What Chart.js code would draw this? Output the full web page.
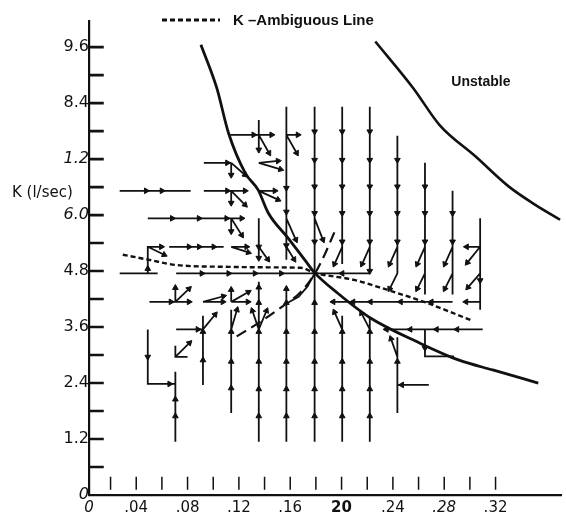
<!DOCTYPE html>
<html>
<head>
<meta charset="utf-8">
<script src="https://cdn.jsdelivr.net/npm/chart.js@4.4.1/dist/chart.umd.min.js"></script>
<style>
    html, body { margin: 0; padding: 0; background: #fff; }
    #wrap { width: 566px; height: 515px; }
</style>
</head>
<body>
<div id="wrap"><canvas id="phaseChart" width="566" height="515"></canvas></div>
<script>
// Axis ticks and labels (as printed on the figure)
const xTickValues = [0, 0.04, 0.08, 0.12, 0.16, 0.20, 0.24, 0.28, 0.32];
const xTickLabels = ['0', '.04', '.08', '.12', '.16', '20', '.24', '.28', '.32'];
const yTickValues = [0, 1.2, 2.4, 3.6, 4.8, 6.0, 7.2, 8.4, 9.6];
const yTickLabels = ['0', '1.2', '2.4', '3.6', '4.8', '6.0', '1.2', '8.4', '9.6'];
const xMarkValues = [0.02, 0.04, 0.06, 0.08, 0.10, 0.12, 0.14, 0.16, 0.18, 0.20, 0.22, 0.24, 0.26, 0.28, 0.30, 0.32];
const yMarkValues = [0.6, 1.2, 1.8, 2.4, 3.0, 3.6, 4.2, 4.8, 5.4, 6.0, 6.6, 7.2, 7.8, 8.4, 9.0, 9.6];

// Boundary curves [x, K]
const stabilityCurve = [
    [0.0904, 9.65], [0.1027, 8.73], [0.1119, 7.76], [0.1250, 6.90], [0.1350, 6.54],
    [0.1428, 6.05], [0.1582, 5.51], [0.1713, 5.04], [0.1791, 4.76], [0.1968, 4.33],
    [0.2222, 3.80], [0.2607, 3.26], [0.2916, 2.89], [0.3178, 2.68], [0.3533, 2.40]
];
const unstableCurve = [
    [0.2263, 9.72], [0.2559, 8.72], [0.2764, 7.93], [0.3047, 7.25],
    [0.3304, 6.61], [0.3510, 6.22], [0.3703, 5.90]
];
const ambiguousLine = [
    [0.0295, 5.15], [0.0503, 5.04], [0.0711, 4.93], [0.1119, 4.89], [0.1428, 4.88],
    [0.1682, 4.87], [0.1793, 4.76], [0.2098, 4.61], [0.2353, 4.40], [0.2662, 4.12], [0.3024, 3.73]
];
const separatrix = [
    [0.1183, 3.40], [0.1366, 3.71], [0.1543, 4.05], [0.1682, 4.35],
    [0.1793, 4.75], [0.1868, 5.15], [0.1944, 5.63]
];

// Trajectories of the phase plane [x, K]
const flowPaths = [
    // upper columns, flowing down
    [[0.1355, 8.04], [0.1355, 7.33]],
    [[0.1355, 5.93], [0.1355, 5.05]],
    [[0.157, 8.32], [0.157, 5.04]],
    [[0.179, 8.32], [0.179, 4.75]],
    [[0.2005, 8.32], [0.2005, 4.95]],
    [[0.222, 8.32], [0.222, 4.75]],
    [[0.2435, 7.70], [0.2435, 4.75]],
    [[0.265, 7.12], [0.265, 4.3]],
    [[0.2865, 6.52], [0.2865, 4.3]],
    [[0.308, 5.93], [0.308, 3.97]],
    // lower columns, flowing up
    [[0.049, 3.55], [0.049, 2.38], [0.0705, 2.38]],
    [[0.0705, 1.14], [0.0705, 2.64]],
    [[0.092, 2.36], [0.092, 3.84]],
    [[0.114, 1.76], [0.114, 3.97]],
    [[0.1355, 1.14], [0.1355, 4.57]],
    [[0.157, 1.14], [0.157, 4.44]],
    [[0.179, 1.14], [0.179, 4.75]],
    [[0.2005, 1.14], [0.2005, 3.84]],
    [[0.222, 1.14], [0.222, 3.8]],
    [[0.2435, 1.76], [0.2435, 3.38]],
    [[0.268, 2.36], [0.2435, 2.36]],
    [[0.265, 3.55], [0.265, 2.97], [0.2877, 2.97]],
    // rows
    [[0.1133, 7.72], [0.1355, 7.72]],
    [[0.0927, 7.12], [0.114, 7.12]],
    [[0.0271, 6.52], [0.0824, 6.52]],
    [[0.0927, 6.52], [0.114, 6.52]],
    [[0.049, 5.93], [0.114, 5.93]],
    [[0.049, 4.75], [0.049, 5.32], [0.0595, 5.32]],
    [[0.0657, 5.32], [0.1081, 5.32]],
    [[0.0271, 4.75], [0.0567, 4.75]],
    [[0.0711, 4.75], [0.179, 4.75]],
    [[0.179, 4.75], [0.222, 4.75]],
    [[0.0503, 4.14], [0.0705, 4.14]],
    [[0.1915, 4.14], [0.2865, 4.14]],
    [[0.0711, 3.55], [0.092, 3.55]],
    [[0.2328, 3.55], [0.31, 3.55]],
    // hook into the singular point
    [[0.1574, 4.11], [0.1665, 4.25], [0.1735, 4.47], [0.179, 4.75]],
    [[0.0705, 3.2], [0.0705, 2.96], [0.080, 2.96]]
];

// Arrowheads on the trajectories [x, K, direction]
const flowArrows = [
    [0.1355, 7.40, 'd'], [0.1355, 5.32, 'd'], [0.1355, 5.08, 'd'],
    [0.157, 6.58, 'd'], [0.157, 6.07, 'd'], [0.157, 5.35, 'd'],
    [0.179, 7.79, 'd'], [0.179, 7.18, 'd'], [0.179, 6.61, 'd'], [0.179, 6.04, 'd'], [0.179, 5.43, 'd'],
    [0.2005, 7.79, 'd'], [0.2005, 7.18, 'd'], [0.2005, 6.61, 'd'], [0.2005, 6.04, 'd'], [0.2005, 5.43, 'd'],
    [0.222, 7.79, 'd'], [0.222, 7.18, 'd'], [0.222, 6.61, 'd'], [0.222, 6.04, 'd'], [0.222, 5.43, 'd'], [0.222, 4.8, 'd'],
    [0.2435, 7.18, 'd'], [0.2435, 6.61, 'd'], [0.2435, 6.04, 'd'], [0.2435, 5.43, 'd'],
    [0.265, 6.61, 'd'], [0.265, 6.04, 'd'], [0.265, 5.43, 'd'],
    [0.2865, 6.04, 'd'], [0.2865, 5.43, 'd'],
    [0.308, 4.6, 'd'],
    [0.049, 2.96, 'd'], [0.066, 2.38, 'r'],
    [0.0705, 2.05, 'u'], [0.0705, 1.69, 'u'],
    [0.092, 2.89, 'u'], [0.092, 3.5, 'u'],
    [0.114, 2.29, 'u'], [0.114, 2.86, 'u'], [0.114, 3.5, 'u'],
    [0.1355, 1.69, 'u'], [0.1355, 2.27, 'u'], [0.1355, 2.86, 'u'], [0.1355, 3.5, 'u'], [0.1355, 4.12, 'u'], [0.1355, 4.45, 'u'],
    [0.157, 1.69, 'u'], [0.157, 2.27, 'u'], [0.157, 2.86, 'u'], [0.157, 3.5, 'u'], [0.157, 4.12, 'u'], [0.157, 4.42, 'u'],
    [0.179, 1.69, 'u'], [0.179, 2.27, 'u'], [0.179, 2.86, 'u'], [0.179, 3.5, 'u'], [0.179, 4.12, 'u'],
    [0.2005, 1.69, 'u'], [0.2005, 2.27, 'u'], [0.2005, 2.86, 'u'], [0.2005, 3.5, 'u'],
    [0.222, 1.69, 'u'], [0.222, 2.27, 'u'], [0.222, 2.86, 'u'], [0.222, 3.5, 'u'],
    [0.2435, 2.86, 'u'], [0.247, 2.36, 'l'],
    [0.265, 3.15, 'd'],
    [0.1315, 7.72, 'r'], [0.111, 7.12, 'r'],
    [0.0477, 6.52, 'r'], [0.060, 6.52, 'r'], [0.111, 6.52, 'r'],
    [0.068, 5.93, 'r'], [0.0889, 5.93, 'r'], [0.1104, 5.93, 'r'],
    [0.049, 4.85, 'u'], [0.0595, 5.32, 'r'],
    [0.0811, 5.32, 'r'], [0.089, 5.32, 'r'], [0.1004, 5.32, 'r'],
    [0.0911, 4.75, 'r'], [0.112, 4.75, 'r'], [0.1325, 4.75, 'r'], [0.153, 4.75, 'r'],
    [0.2005, 4.75, 'l'],
    [0.067, 4.14, 'r'],
    [0.1935, 4.14, 'l'], [0.209, 4.14, 'l'], [0.2225, 4.14, 'l'], [0.246, 4.14, 'l'], [0.27, 4.14, 'l'],
    [0.088, 3.55, 'r'],
    [0.235, 3.55, 'l'], [0.2535, 3.55, 'l'], [0.274, 3.55, 'l'], [0.29, 3.55, 'l']
];

// Short direction arrows at the grid points [x0, K0, x1, K1], head at the end
const flowStubs = [
    [0.1355, 7.72, 0.1435, 7.33], [0.1355, 7.72, 0.1455, 7.72],
    [0.157, 7.72, 0.165, 7.33], [0.157, 7.72, 0.166, 7.72],
    [0.114, 7.12, 0.1248, 6.86], [0.114, 7.12, 0.114, 6.86],
    [0.1355, 7.12, 0.1525, 6.98], [0.1355, 7.12, 0.1505, 7.16],
    [0.114, 6.52, 0.1248, 6.22], [0.114, 6.52, 0.114, 6.26], [0.114, 6.52, 0.1248, 6.52],
    [0.1355, 6.52, 0.1505, 6.33], [0.1355, 6.52, 0.148, 6.52],
    [0.114, 5.93, 0.1222, 5.57], [0.114, 5.93, 0.114, 5.65], [0.114, 5.93, 0.1222, 5.93],
    [0.157, 5.93, 0.1644, 5.47], [0.179, 5.93, 0.1855, 5.47],
    [0.049, 5.32, 0.0618, 5.15],
    [0.114, 5.32, 0.1274, 5.2], [0.114, 5.32, 0.126, 5.32],
    [0.1355, 5.32, 0.1425, 5.05], [0.157, 5.32, 0.163, 5.05],
    [0.2005, 5.32, 0.1945, 4.95], [0.222, 5.32, 0.216, 4.95], [0.2435, 5.32, 0.2375, 4.95],
    [0.265, 5.32, 0.259, 4.95], [0.2865, 5.32, 0.2805, 4.95],
    [0.308, 5.32, 0.2975, 5.32], [0.308, 5.32, 0.298, 4.98],
    [0.2435, 4.75, 0.2375, 4.42], [0.265, 4.75, 0.259, 4.42], [0.2865, 4.75, 0.2805, 4.42],
    [0.308, 4.75, 0.2985, 4.45], [0.308, 4.14, 0.297, 4.14],
    [0.0705, 4.14, 0.0705, 4.44], [0.0705, 4.14, 0.0811, 4.42], [0.0705, 4.14, 0.0811, 4.14],
    [0.092, 4.14, 0.108, 4.26], [0.092, 4.14, 0.1075, 4.14],
    [0.114, 4.14, 0.1274, 4.35], [0.114, 4.14, 0.127, 4.14], [0.114, 4.14, 0.114, 4.4],
    [0.092, 3.55, 0.1015, 3.87], [0.114, 3.55, 0.1185, 3.97],
    [0.1355, 3.55, 0.1305, 3.95], [0.1355, 3.55, 0.1415, 3.95],
    [0.0705, 2.96, 0.0815, 3.26],
    [0.2005, 3.55, 0.1945, 3.92], [0.222, 3.55, 0.2155, 3.9],
    [0.2435, 2.96, 0.2385, 3.35]
];

const unstableLabel = { text: 'Unstable', x: 0.3086, y: 8.86 };
const axisTitle = { text: 'K (l/sec)', y: 6.47 };

const ink = '#111';
const xMin = 0.0032;
const xMax = 0.371;
const yMax = 10.16;

// Turn a list of polylines into one point list with gaps between them
function joinPaths(paths) {
    const out = [];
    paths.forEach(path => {
        path.forEach(p => out.push({ x: p[0], y: p[1] }));
        out.push({ x: null, y: null });
    });
    return out;
}

function toPoints(list) {
    return list.map(p => ({ x: p[0], y: p[1] }));
}

// Build arrowheads, each remembers a point behind it for the direction
function buildHeads() {
    const back = { d: [0, 1], u: [0, -1], r: [-0.01, 0], l: [0.01, 0] };
    const heads = flowArrows.map(a => ({ x: a[0], y: a[1], fx: a[0] + back[a[2]][0], fy: a[1] + back[a[2]][1] }));
    flowStubs.forEach(s => heads.push({ x: s[2], y: s[3], fx: s[0], fy: s[1] }));
    return heads;
}

const stubPaths = flowStubs.map(s => [[s[0], s[1]], [s[2], s[3]]]);
const xMarkPaths = xMarkValues.map(v => [[v, 0.11], [v, 0.39]]);
const yMarkPaths = yMarkValues.map(v => [[xMin, v], [xMin + 0.0115, v]]);

// Draws the legend key, the region label and the y title
const figureLabels = {
    id: 'figureLabels',
    afterDatasetsDraw(chart) {
        const { ctx, scales: { x, y } } = chart;
        const ds = chart.data.datasets.find(d => d.key === 'ambiguous');
        ctx.save();
        ctx.strokeStyle = ink;
        ctx.lineWidth = 3;
        ctx.setLineDash([5, 3]);
        ctx.beginPath();
        ctx.moveTo(162, 20);
        ctx.lineTo(220, 20);
        ctx.stroke();
        ctx.setLineDash([]);
        ctx.fillStyle = ink;
        ctx.textBaseline = 'middle';
        ctx.textAlign = 'left';
        ctx.font = 'bold 15px "Liberation Sans", Arial, sans-serif';
        ctx.fillText(ds.label, 233, 21);

        ctx.font = 'bold 14px "Liberation Sans", Arial, sans-serif';
        ctx.textAlign = 'center';
        ctx.fillText(unstableLabel.text, x.getPixelForValue(unstableLabel.x), y.getPixelForValue(unstableLabel.y));

        ctx.font = '15px "DejaVu Sans", sans-serif';
        ctx.textAlign = 'left';
        ctx.fillText(axisTitle.text, 12, y.getPixelForValue(axisTitle.y));
        ctx.restore();
    }
};

function renderChart() {
    const ctx = document.getElementById('phaseChart').getContext('2d');

    new Chart(ctx, {
        type: 'scatter',
        data: {
            datasets: [
                {
                    label: 'Axis marks',
                    data: joinPaths(yMarkPaths),
                    showLine: true,
                    borderColor: ink,
                    borderWidth: 2.6,
                    pointRadius: 0,
                    clip: false
                },
                {
                    label: 'Bottom marks',
                    data: joinPaths(xMarkPaths),
                    showLine: true,
                    borderColor: ink,
                    borderWidth: 1.5,
                    pointRadius: 0
                },
                {
                    label: 'Trajectories',
                    data: joinPaths(flowPaths.concat(stubPaths)),
                    showLine: true,
                    borderColor: ink,
                    borderWidth: 1.8,
                    pointRadius: 0
                },
                {
                    label: 'Arrowheads',
                    data: buildHeads(),
                    showLine: false,
                    pointStyle: 'triangle',
                    pointRadius: 3.3,
                    backgroundColor: ink,
                    borderColor: ink,
                    borderWidth: 1,
                    rotation: (c) => {
                        const p = c.raw;
                        if (!p) return 0;
                        const sx = c.chart.scales.x;
                        const sy = c.chart.scales.y;
                        const dx = sx.getPixelForValue(p.x) - sx.getPixelForValue(p.fx);
                        const dy = sy.getPixelForValue(p.y) - sy.getPixelForValue(p.fy);
                        return Math.atan2(dx, -dy) * 180 / Math.PI;
                    }
                },
                {
                    label: 'Stability boundary',
                    data: toPoints(stabilityCurve),
                    showLine: true,
                    cubicInterpolationMode: 'monotone',
                    borderColor: ink,
                    borderWidth: 2.8,
                    pointRadius: 0
                },
                {
                    label: 'Unstable boundary',
                    data: toPoints(unstableCurve),
                    showLine: true,
                    cubicInterpolationMode: 'monotone',
                    borderColor: ink,
                    borderWidth: 2.6,
                    pointRadius: 0
                },
                {
                    key: 'ambiguous',
                    label: 'K \u2013Ambiguous Line',
                    data: toPoints(ambiguousLine),
                    showLine: true,
                    cubicInterpolationMode: 'monotone',
                    borderColor: ink,
                    borderWidth: 2.4,
                    borderDash: [5, 3],
                    pointRadius: 0
                },
                {
                    label: 'Separatrix',
                    data: toPoints(separatrix),
                    showLine: true,
                    cubicInterpolationMode: 'monotone',
                    borderColor: ink,
                    borderWidth: 2.2,
                    borderDash: [11, 6],
                    pointRadius: 0
                }
            ]
        },
        options: {
            responsive: false,
            devicePixelRatio: 1,
            animation: false,
            layout: { padding: { top: 21, left: 0, right: 0, bottom: 0 } },
            plugins: {
                legend: { display: false },
                tooltip: { enabled: false }
            },
            scales: {
                x: {
                    type: 'linear',
                    min: xMin,
                    max: xMax,
                    grid: { display: false, drawTicks: false },
                    border: { display: true, color: ink, width: 2.2 },
                    afterBuildTicks: (scale) => {
                        scale.ticks = xTickValues.map(v => ({ value: Math.max(v, scale.min) }));
                    },
                    afterFit: (scale) => { scale.height = 20; },
                    ticks: {
                        autoSkip: false,
                        maxRotation: 0,
                        padding: 4,
                        color: ink,
                        font: (c) => ({
                            family: '"DejaVu Sans", sans-serif',
                            size: 15,
                            style: (c.index === 0 || c.index === 7) ? 'italic' : 'normal',
                            weight: c.index === 5 ? 'bold' : 'normal'
                        }),
                        callback: (value, index) => xTickLabels[index]
                    }
                },
                y: {
                    type: 'linear',
                    min: 0,
                    max: yMax,
                    grid: { display: false, drawTicks: false },
                    border: { display: true, color: ink, width: 2.2 },
                    afterBuildTicks: (scale) => {
                        scale.ticks = yTickValues.map(v => ({ value: v }));
                    },
                    afterFit: (scale) => { scale.width = 89; },
                    ticks: {
                        autoSkip: false,
                        padding: 0,
                        color: ink,
                        font: (c) => ({
                            family: '"DejaVu Sans", sans-serif',
                            size: 16,
                            style: (c.index === 0 || c.index === 5 || c.index === 6) ? 'italic' : 'normal'
                        }),
                        callback: (value, index) => yTickLabels[index]
                    }
                }
            }
        },
        plugins: [figureLabels]
    });
}

document.addEventListener('DOMContentLoaded', renderChart);
</script>
</body>
</html>
